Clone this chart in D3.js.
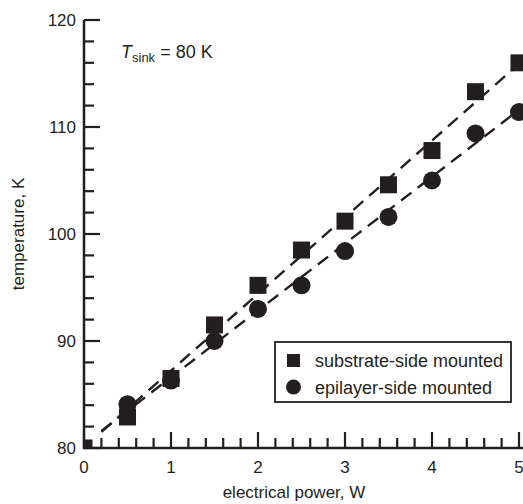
<!DOCTYPE html>
<html>
<head>
<meta charset="utf-8">
<script src="https://cdn.jsdelivr.net/npm/d3@7"></script>
<style>
  body { margin: 0; background: #fff; }
  text { font-family: "Liberation Sans", Arial, Helvetica, sans-serif; fill: #231f20; }
</style>
</head>
<body>
<div id="chart"></div>
<script>
// data
var power = [0, 0.5, 1, 1.5, 2, 2.5, 3, 3.5, 4, 4.5, 5];
var substrateTemp = [80, 82.9, 86.5, 91.5, 95.2, 98.5, 101.2, 104.6, 107.8, 113.3, 116];
var epiPower = [0.5, 1, 1.5, 2, 2.5, 3, 3.5, 4, 4.5, 5];
var epiTemp = [84.1, 86.3, 90, 93, 95.2, 98.4, 101.6, 105, 109.4, 111.4];
// dashed fit lines (end points)
var fitPower = [0.2, 5];
var fitSubstrate = [81.5, 115.9];
var fitEpi = [81.6, 111.6];
var xTicks = [0, 1, 2, 3, 4, 5];
var yTicks = [80, 90, 100, 110, 120];
var xMinor = [0.2, 0.4, 0.6, 0.8, 1.2, 1.4, 1.6, 1.8, 2.2, 2.4, 2.6, 2.8, 3.2, 3.4, 3.6, 3.8, 4.2, 4.4, 4.6, 4.8];
var yMinor = [82, 84, 86, 88, 92, 94, 96, 98, 102, 104, 106, 108, 112, 114, 116, 118];

var W = 523, H = 504;
var margin = {top: 20, right: 4, bottom: 56, left: 84};
var plotW = 435, plotH = 428;
var ink = "#231f20";

var svg = d3.select("#chart").append("svg")
    .attr("width", W).attr("height", H)
  .append("g")
    .attr("transform", "translate(" + margin.left + "," + margin.top + ")");

var x = d3.scaleLinear().domain([0, 5]).range([0, plotW]);
var y = d3.scaleLinear().domain([80, 120]).range([plotH, 0]);

// tick marks, drawn inward
var ticks = svg.append("g").attr("stroke", ink).attr("stroke-width", 2.2);
ticks.selectAll(".xmaj").data(xTicks).enter().append("line").attr("class", "xmaj")
  .attr("x1", d => x(d)).attr("x2", d => x(d)).attr("y1", plotH).attr("y2", plotH - 16);
ticks.selectAll(".xmin").data(xMinor).enter().append("line").attr("class", "xmin")
  .attr("x1", d => x(d)).attr("x2", d => x(d)).attr("y1", plotH).attr("y2", plotH - 10);
ticks.selectAll(".ymaj").data(yTicks).enter().append("line").attr("class", "ymaj")
  .attr("y1", d => y(d)).attr("y2", d => y(d)).attr("x1", 0).attr("x2", 16);
ticks.selectAll(".ymin").data(yMinor).enter().append("line").attr("class", "ymin")
  .attr("y1", d => y(d)).attr("y2", d => y(d)).attr("x1", 0).attr("x2", 10);

// axis lines
svg.append("path")
  .attr("d", "M0,0V" + plotH + "H" + (plotW + 10))
  .attr("fill", "none").attr("stroke", ink).attr("stroke-width", 2.5);

// tick labels
svg.append("g").selectAll("text").data(xTicks).enter().append("text")
  .attr("x", d => x(d)).attr("y", plotH + 25)
  .attr("text-anchor", "middle").attr("font-size", 17)
  .text(d => d);
svg.append("g").selectAll("text").data(yTicks).enter().append("text")
  .attr("x", -8).attr("y", d => y(d) + 6)
  .attr("text-anchor", "end").attr("font-size", 17)
  .text(d => d);

svg.append("clipPath").attr("id", "plotclip")
  .append("rect").attr("x", 0).attr("y", -20).attr("width", plotW + 20).attr("height", plotH + 20);

// fit lines
var line = d3.line().x(d => x(d[0])).y(d => y(d[1]));
[fitSubstrate, fitEpi].forEach(function(f) {
  svg.append("path")
    .datum(fitPower.map((p, i) => [p, f[i]]))
    .attr("d", line)
    .attr("fill", "none")
    .attr("stroke", ink)
    .attr("stroke-width", 2.4)
    .attr("stroke-dasharray", "13,8");
});

// markers
var marks = svg.append("g").attr("clip-path", "url(#plotclip)");
marks.selectAll("rect")
  .data(power.map((p, i) => [p, substrateTemp[i]]))
  .enter().append("rect")
    .attr("x", d => x(d[0]) - 8.5).attr("y", d => y(d[1]) - 8.5)
    .attr("width", 17).attr("height", 17)
    .attr("fill", ink);
marks.selectAll("circle")
  .data(epiPower.map((p, i) => [p, epiTemp[i]]))
  .enter().append("circle")
    .attr("cx", d => x(d[0])).attr("cy", d => y(d[1]))
    .attr("r", 9)
    .attr("fill", ink);

// legend
var lg = svg.append("g").attr("transform", "translate(191,322)");
lg.append("rect").attr("width", 236).attr("height", 60)
  .attr("fill", "#fff").attr("stroke", ink).attr("stroke-width", 1.8);
lg.append("rect").attr("x", 12).attr("y", 12).attr("width", 13).attr("height", 13).attr("fill", ink);
lg.append("circle").attr("cx", 18.5).attr("cy", 45).attr("r", 7.5).attr("fill", ink);
lg.append("text").attr("x", 40).attr("y", 25).attr("font-size", 18).text("substrate-side mounted");
lg.append("text").attr("x", 40).attr("y", 52).attr("font-size", 18).text("epilayer-side mounted");

// annotation
var ann = svg.append("text").attr("x", 37).attr("y", 38).attr("font-size", 18);
ann.append("tspan").attr("font-style", "italic").text("T");
ann.append("tspan").attr("font-size", 13).attr("dy", 4).text("sink");
ann.append("tspan").attr("dy", -4).text(" = 80 K");

// axis titles
svg.append("text")
  .attr("x", 210).attr("y", plotH + 50)
  .attr("text-anchor", "middle").attr("font-size", 17)
  .text("electrical power, W");
svg.append("text")
  .attr("transform", "translate(-60," + (plotH / 2) + ") rotate(-90)")
  .attr("text-anchor", "middle").attr("font-size", 17)
  .text("temperature, K");
</script>
</body>
</html>
